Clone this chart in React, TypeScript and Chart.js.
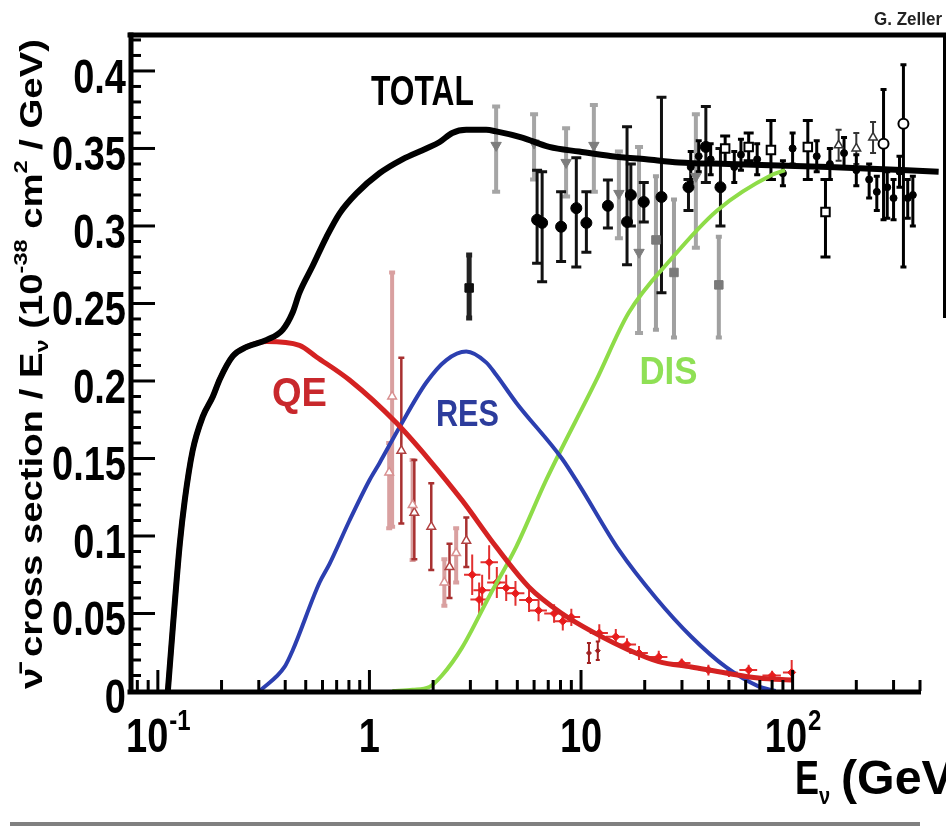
import React, { useEffect, useRef } from 'react';
import { Chart, registerables } from 'chart.js';

Chart.register(...registerables);

// ---------------- axis ranges & tick labels ----------------
const X_MIN = 0.07386;
const X_MAX = 400;
const Y_MIN = 0;
const Y_MAX = 0.4232;
const yTickValues = [0, 0.05, 0.1, 0.15, 0.2, 0.25, 0.3, 0.35, 0.4];
const yTickLabels = ['0', '0.05', '0.1', '0.15', '0.2', '0.25', '0.3', '0.35', '0.4'];
const xTickValues = [0.1, 1, 10, 100];
const xTickBase = ['10', '1', '10', '10'];
const xTickSup = ['-1', '', '', '2'];

// ---------------- model curves ----------------
const totalE = [0.1115, 0.1177, 0.127, 0.134, 0.146, 0.163, 0.182, 0.196, 0.226, 0.263, 0.327, 0.389, 0.433, 0.467, 0.538, 0.627, 0.722, 0.868, 1.115, 1.431, 1.857, 2.139, 2.463, 2.868, 3.563, 3.972, 5.27, 7.07, 9.79, 14.0, 20.3, 29.0, 50.0, 148, 490];
const totalV = [0, 0.041, 0.095, 0.123, 0.155, 0.177, 0.19, 0.201, 0.216, 0.222, 0.2265, 0.233, 0.244, 0.257, 0.274, 0.293, 0.308, 0.321, 0.334, 0.343, 0.35, 0.354, 0.36, 0.362, 0.362, 0.361, 0.357, 0.351, 0.348, 0.345, 0.343, 0.341, 0.34, 0.338, 0.335];

const qeE = [0.1115, 0.1177, 0.127, 0.134, 0.146, 0.163, 0.182, 0.196, 0.226, 0.263, 0.327, 0.467, 0.562, 0.805, 1.34, 1.92, 2.74, 3.97, 5.68, 8.12, 11.76, 16.8, 23.3, 33.2, 48.3, 69.0, 101];
const qeV = [0, 0.041, 0.095, 0.123, 0.155, 0.177, 0.19, 0.201, 0.216, 0.222, 0.2255, 0.223, 0.2155, 0.2006, 0.173, 0.149, 0.123, 0.093, 0.067, 0.05, 0.037, 0.0265, 0.019, 0.0155, 0.0116, 0.0084, 0.007];

const resE = [0.303, 0.397, 0.433, 0.581, 0.648, 0.805, 1.0, 1.115, 1.385, 1.857, 2.31, 2.868, 3.56, 3.97, 4.94, 8.12, 9.79, 15.1, 22.6, 33.2, 48.3, 69, 83];
const resV = [0, 0.0155, 0.026, 0.07, 0.082, 0.11, 0.136, 0.147, 0.17, 0.199, 0.2135, 0.219, 0.212, 0.204, 0.186, 0.15, 0.133, 0.091, 0.06, 0.035, 0.0155, 0.003, 0];

const disE = [1.284, 1.6, 1.918, 2.2, 2.74, 3.68, 4.94, 6.84, 11.76, 16.8, 26.8, 44, 80, 92];
const disV = [0, 0.0008, 0.0026, 0.01, 0.028, 0.061, 0.093, 0.136, 0.2, 0.244, 0.279, 0.31, 0.333, 0.336];

// ---------------- measurements ----------------
const grayTriE = [3.97, 6.0, 8.5, 11.5, 15.1, 18.8, 34.9];
const grayTriV = [0.352, 0.3535, 0.341, 0.352, 0.321, 0.283, 0.332];
const grayTriLo = [0.322, 0.33, 0.319, 0.322, 0.292, 0.231, 0.286];
const grayTriHi = [0.377, 0.372, 0.363, 0.378, 0.348, 0.351, 0.372];

const graySqE = [22.6, 27.5, 44.8];
const graySqV = [0.291, 0.27, 0.262];
const graySqLo = [0.233, 0.228, 0.228];
const graySqHi = [0.332, 0.317, 0.293];

const blackCircE = [6.2, 6.55, 8.05, 9.5, 10.6, 13.4, 16.5, 17.2, 19.8, 24.0, 32.2, 38.9, 45.6];
const blackCircV = [0.304, 0.302, 0.2995, 0.3115, 0.302, 0.313, 0.3026, 0.32, 0.3155, 0.3187, 0.325, 0.351, 0.325];
const blackCircLo = [0.276, 0.264, 0.277, 0.2735, 0.283, 0.2987, 0.275, 0.3, 0.3026, 0.257, 0.31, 0.328, 0.3];
const blackCircHi = [0.336, 0.335, 0.322, 0.344, 0.322, 0.3297, 0.364, 0.34, 0.328, 0.383, 0.33, 0.377, 0.35];

const blackSqE = [2.96];
const blackSqV = [0.26];
const blackSqLo = [0.2406];
const blackSqHi = [0.2813];

const openSqE = [48, 62, 79, 118, 143];
const openSqV = [0.35, 0.351, 0.349, 0.351, 0.309];
const openSqLo = [0.34, 0.342, 0.33, 0.33, 0.28];
const openSqHi = [0.358, 0.36, 0.368, 0.368, 0.33];

const openCircE = [269, 334];
const openCircV = [0.353, 0.366];
const openCircLo = [0.304, 0.2735];
const openCircHi = [0.388, 0.404];

const openTriE = [165, 200, 240];
const openTriV = [0.352, 0.35, 0.357];
const openTriLo = [0.342, 0.34, 0.347];
const openTriHi = [0.362, 0.36, 0.367];

const blackSmallE = [33, 36, 41, 53, 57, 68, 90, 100, 130, 150, 175, 200, 230, 250, 280, 300, 320, 350, 370];
const blackSmallV = [0.338, 0.345, 0.343, 0.338, 0.346, 0.343, 0.334, 0.35, 0.345, 0.34, 0.347, 0.336, 0.33, 0.322, 0.325, 0.318, 0.335, 0.318, 0.32];
const blackSmallLo = [0.328, 0.335, 0.333, 0.328, 0.336, 0.333, 0.326, 0.34, 0.335, 0.33, 0.337, 0.326, 0.318, 0.31, 0.305, 0.304, 0.325, 0.305, 0.3];
const blackSmallHi = [0.348, 0.355, 0.353, 0.348, 0.356, 0.353, 0.342, 0.36, 0.355, 0.35, 0.357, 0.346, 0.34, 0.332, 0.335, 0.33, 0.345, 0.33, 0.332];

const qePinkE = [1.24, 1.28, 1.6, 2.26, 2.57];
const qePinkV = [0.141, 0.19, 0.12, 0.07, 0.089];
const qePinkLo = [0.105, 0.106, 0.0845, 0.055, 0.07];
const qePinkHi = [0.16, 0.27, 0.149, 0.085, 0.105];

const qeDarkE = [1.415, 1.63, 1.96, 2.39, 2.87];
const qeDarkV = [0.155, 0.115, 0.106, 0.08, 0.097];
const qeDarkLo = [0.108, 0.085, 0.078, 0.06, 0.08];
const qeDarkHi = [0.215, 0.149, 0.134, 0.095, 0.112];

const qeStarE = [3.06, 3.3, 3.41, 3.68, 4.0, 4.43, 4.9, 5.68, 6.3, 7.46, 8.2, 9.0, 12.2, 14.6, 16.5, 18.8, 23.3, 29.9, 40, 50, 62, 80, 99];
const qeStarV = [0.075, 0.059, 0.065, 0.083, 0.07, 0.0665, 0.063, 0.0587, 0.052, 0.05, 0.045, 0.0477, 0.0374, 0.035, 0.03, 0.0245, 0.022, 0.018, 0.0135, 0.012, 0.0135, 0.01, 0.012];
const qeStarLo = [0.062, 0.048, 0.055, 0.072, 0.06, 0.058, 0.055, 0.051, 0.045, 0.044, 0.039, 0.042, 0.032, 0.03, 0.026, 0.02, 0.018, 0.015, 0.01, 0.009, 0.01, 0.007, 0.007];
const qeStarHi = [0.088, 0.07, 0.075, 0.094, 0.08, 0.075, 0.071, 0.066, 0.059, 0.056, 0.051, 0.053, 0.043, 0.04, 0.034, 0.029, 0.026, 0.021, 0.017, 0.015, 0.017, 0.013, 0.02];
const qeStarXLo = [2.8, 3.0, 3.1, 3.35, 3.6, 4.0, 4.4, 5.1, 5.7, 6.7, 7.4, 8.1, 11.0, 13.1, 14.8, 16.9, 21.0, 26.9, 36, 45, 56, 72, 90];
const qeStarXHi = [3.35, 3.6, 3.75, 4.05, 4.4, 4.9, 5.4, 6.3, 6.9, 8.2, 9.0, 9.9, 13.4, 16.1, 18.2, 20.7, 25.6, 32.9, 44, 55, 68, 88, 100];

const qeLowE = [10.9, 12.0];
const qeLowV = [0.0245, 0.026];
const qeLowLo = [0.018, 0.02];
const qeLowHi = [0.031, 0.032];

// ---------------- helpers ----------------
const FONT = '"Liberation Sans", Arial, Helvetica, sans-serif';
const pts = (xs: number[], ys: number[]) => xs.map((x, i) => ({ x, y: ys[i] }));

function drawScaled(ctx: any, text: string, x: number, y: number, fs: number, sx: number, sy: number, align: string, color: string) {
  ctx.save();
  ctx.font = `bold ${fs}px ${FONT}`;
  ctx.fillStyle = color;
  ctx.textAlign = align;
  ctx.textBaseline = 'alphabetic';
  ctx.translate(x, y);
  ctx.scale(sx, sy);
  ctx.fillText(text, 0, 0);
  ctx.restore();
}

function drawLabel(ctx: any, text: string, cx: number, cy: number, targetW: number, capH: number, color: string) {
  ctx.save();
  ctx.font = `bold 30px ${FONT}`;
  const w = ctx.measureText(text).width;
  ctx.restore();
  drawScaled(ctx, text, cx, cy + capH / 2, 30, targetW / w, capH / (0.716 * 30), 'center', color);
}

const errorBarPlugin = {
  id: 'errorBars',
  beforeDatasetsDraw(chart: any) {
    const { ctx, scales } = chart;
    const xs = scales.x;
    const ys = scales.y;
    chart.data.datasets.forEach((ds: any) => {
      if (!ds.errLo) return;
      ctx.save();
      ctx.strokeStyle = ds.errColor;
      ctx.lineWidth = ds.errWidth;
      ds.data.forEach((p: any, j: number) => {
        const px = xs.getPixelForValue(p.x);
        const py = ys.getPixelForValue(p.y);
        const y1 = ys.getPixelForValue(ds.errLo[j]);
        const y2 = ys.getPixelForValue(ds.errHi[j]);
        ctx.beginPath();
        ctx.moveTo(px, y1);
        ctx.lineTo(px, y2);
        if (ds.capW) {
          ctx.moveTo(px - ds.capW, y1);
          ctx.lineTo(px + ds.capW, y1);
          ctx.moveTo(px - ds.capW, y2);
          ctx.lineTo(px + ds.capW, y2);
        }
        if (ds.xErrLo) {
          const x1 = xs.getPixelForValue(ds.xErrLo[j]);
          const x2 = xs.getPixelForValue(ds.xErrHi[j]);
          ctx.moveTo(x1, py);
          ctx.lineTo(x2, py);
        }
        ctx.stroke();
      });
      ctx.restore();
    });
  },
};

const decorPlugin = {
  id: 'decor',
  afterDraw(chart: any) {
    const { ctx, scales, chartArea } = chart;
    const xs = scales.x;
    const ys = scales.y;
    const L = chartArea.left;
    const R = chartArea.right;
    const T = chartArea.top;
    const B = chartArea.bottom;
    ctx.save();
    ctx.strokeStyle = '#000';
    ctx.lineCap = 'butt';

    // frame
    ctx.lineWidth = 5;
    ctx.beginPath();
    ctx.moveTo(L - 2.5, T);
    ctx.lineTo(946, T);
    ctx.stroke();
    ctx.beginPath();
    ctx.moveTo(L + 1, T - 2.5);
    ctx.lineTo(L + 1, B + 3);
    ctx.stroke();
    ctx.beginPath();
    ctx.moveTo(L - 2.5, B + 1);
    ctx.lineTo(R + 1, B + 1);
    ctx.stroke();
    ctx.lineWidth = 3;
    ctx.beginPath();
    ctx.moveTo(944.5, T);
    ctx.lineTo(944.5, 318);
    ctx.stroke();

    // y ticks (inward)
    ctx.lineWidth = 3;
    for (let k = 1; k <= 42; k++) {
      const v = k / 100;
      const py = ys.getPixelForValue(v);
      const major = k % 5 === 0;
      ctx.beginPath();
      ctx.moveTo(L + 2, py);
      ctx.lineTo(L + (major ? 25 : 11), py);
      ctx.stroke();
    }
    // x ticks (inward)
    const decades = [0.01, 0.1, 1, 10, 100];
    decades.forEach((d) => {
      for (let m = 1; m <= 9; m++) {
        const v = m * d;
        if (v < X_MIN || v > X_MAX * 1.0001) continue;
        const px = xs.getPixelForValue(v);
        ctx.beginPath();
        ctx.moveTo(px, B);
        ctx.lineTo(px, B - (m === 1 ? 21 : 11));
        ctx.stroke();
      }
    });

    // y tick labels
    yTickValues.forEach((v, i) => {
      const py = ys.getPixelForValue(v);
      drawScaled(ctx, yTickLabels[i], 126, py + 5 + 17, 38, 1, 1.27, 'right', '#000');
    });

    // x tick labels
    xTickValues.forEach((v, i) => {
      const px = xs.getPixelForValue(v);
      ctx.font = `bold 38px ${FONT}`;
      const wb = ctx.measureText(xTickBase[i]).width;
      ctx.font = `bold 24px ${FONT}`;
      const wsup = xTickSup[i] ? ctx.measureText(xTickSup[i]).width : 0;
      const x0 = px - (wb + wsup) / 2;
      drawScaled(ctx, xTickBase[i], x0, 752, 38, 1, 1.25, 'left', '#000');
      if (xTickSup[i]) drawScaled(ctx, xTickSup[i], x0 + wb + 1, 730, 24, 1, 1.25, 'left', '#000');
    });

    // curve labels
    drawLabel(ctx, 'TOTAL', xs.getPixelForValue(1.78), ys.getPixelForValue(0.3877), 103, 30, '#000');
    drawLabel(ctx, 'QE', xs.getPixelForValue(0.467), ys.getPixelForValue(0.1929), 55, 29, '#c8282c');
    drawLabel(ctx, 'RES', xs.getPixelForValue(2.904), ys.getPixelForValue(0.1794), 63, 27, '#2c3c9c');
    drawLabel(ctx, 'DIS', xs.getPixelForValue(25.9), ys.getPixelForValue(0.2071), 58, 28, '#8fe055');

    // credit
    drawScaled(ctx, 'G. Zeller', 942, 25, 17, 1, 1.05, 'right', '#222');

    // y axis title (rotated, stretched to span)
    const segs = [
      { t: 'ν̄ cross section / E', fs: 31, dy: 0 },
      { t: 'ν', fs: 19, dy: 6 },
      { t: ' (10', fs: 31, dy: 0 },
      { t: '-38', fs: 19, dy: -15 },
      { t: ' cm', fs: 31, dy: 0 },
      { t: '2', fs: 19, dy: -15 },
      { t: ' / GeV)', fs: 31, dy: 0 },
    ];
    let total = 0;
    const widths = segs.map((s) => {
      ctx.font = `bold ${s.fs}px ${FONT}`;
      const w = ctx.measureText(s.t).width;
      total += w;
      return w;
    });
    const sAlong = 650 / total;
    ctx.save();
    ctx.translate(42, 689);
    ctx.rotate(-Math.PI / 2);
    ctx.scale(sAlong, 1);
    ctx.fillStyle = '#000';
    ctx.textAlign = 'left';
    ctx.textBaseline = 'alphabetic';
    let cx = 0;
    segs.forEach((s, i) => {
      ctx.font = `bold ${s.fs}px ${FONT}`;
      ctx.fillText(s.t, cx, s.dy);
      cx += widths[i];
    });
    ctx.restore();

    // x axis title (runs off the canvas edge like the original)
    ctx.font = `bold 36px ${FONT}`;
    const wE = ctx.measureText('E').width;
    drawScaled(ctx, 'E', 795, 794, 36, 1, 1.35, 'left', '#000');
    drawScaled(ctx, 'ν', 795 + wE, 804, 20, 1, 1.2, 'left', '#000');
    drawScaled(ctx, '(GeV)', 841, 794, 42, 1.15, 1.15, 'left', '#000');

    // bottom grey rule
    ctx.strokeStyle = '#808080';
    ctx.lineWidth = 4;
    ctx.beginPath();
    ctx.moveTo(10, 824);
    ctx.lineTo(920, 824);
    ctx.stroke();
    ctx.restore();
  },
};

export default function App() {
  const ref = useRef<HTMLCanvasElement | null>(null);
  useEffect(() => {
    if (!ref.current) return;
    const curve = (label: string, xs: number[], ys: number[], color: string, width: number, order: number, extra: any = {}) => ({
      label,
      data: pts(xs, ys),
      borderColor: color,
      borderWidth: width,
      pointRadius: 0,
      fill: false,
      cubicInterpolationMode: 'monotone',
      order,
      ...extra,
    });
    const marks = (label: string, xs: number[], ys: number[], lo: number[], hi: number[], style: any) => ({
      label,
      data: pts(xs, ys),
      showLine: false,
      errLo: lo,
      errHi: hi,
      order: 5,
      ...style,
    });
    const chart = new Chart(ref.current, {
      type: 'line',
      data: {
        datasets: [
          curve('TOTAL', totalE, totalV, '#000000', 6, 0, { clip: false }),
          curve('QE', qeE, qeV, '#d42222', 5, 1),
          curve('RES', resE, resV, '#2c3fb0', 4, 2),
          curve('DIS', disE, disV, '#8edc48', 4, 3),
          marks('grayTri', grayTriE, grayTriV, grayTriLo, grayTriHi, {
            pointStyle: 'triangle', pointRotation: 180, pointRadius: 6,
            pointBackgroundColor: '#7d7d7d', pointBorderColor: '#7d7d7d', errColor: '#a5a5a5', errWidth: 4, capW: 4,
          }),
          marks('graySq', graySqE, graySqV, graySqLo, graySqHi, {
            pointStyle: 'rect', pointRadius: 6,
            pointBackgroundColor: '#7a7a7a', pointBorderColor: '#7a7a7a', errColor: '#a0a0a0', errWidth: 4, capW: 3,
          }),
          marks('blackCirc', blackCircE, blackCircV, blackCircLo, blackCircHi, {
            pointStyle: 'circle', pointRadius: 5.5,
            pointBackgroundColor: '#000', pointBorderColor: '#000', errColor: '#111', errWidth: 3, capW: 5,
          }),
          marks('blackSq', blackSqE, blackSqV, blackSqLo, blackSqHi, {
            pointStyle: 'rect', pointRadius: 6,
            pointBackgroundColor: '#111', pointBorderColor: '#111', errColor: '#222', errWidth: 5, capW: 3,
          }),
          marks('openSq', openSqE, openSqV, openSqLo, openSqHi, {
            pointStyle: 'rect', pointRadius: 6, pointBorderWidth: 2,
            pointBackgroundColor: '#fff', pointBorderColor: '#000', errColor: '#000', errWidth: 3, capW: 5,
          }),
          marks('openCirc', openCircE, openCircV, openCircLo, openCircHi, {
            pointStyle: 'circle', pointRadius: 5, pointBorderWidth: 2,
            pointBackgroundColor: '#fff', pointBorderColor: '#000', errColor: '#000', errWidth: 3, capW: 3,
          }),
          marks('openTri', openTriE, openTriV, openTriLo, openTriHi, {
            pointStyle: 'triangle', pointRadius: 5, pointBorderWidth: 1.5,
            pointBackgroundColor: '#fff', pointBorderColor: '#333', errColor: '#333', errWidth: 2, capW: 3,
          }),
          marks('blackSmall', blackSmallE, blackSmallV, blackSmallLo, blackSmallHi, {
            pointStyle: 'circle', pointRadius: 3.5,
            pointBackgroundColor: '#000', pointBorderColor: '#000', errColor: '#000', errWidth: 3, capW: 3,
          }),
          marks('qePink', qePinkE, qePinkV, qePinkLo, qePinkHi, {
            pointStyle: 'triangle', pointRadius: 5, pointBorderWidth: 1.5,
            pointBackgroundColor: '#fff', pointBorderColor: '#d89090', errColor: '#d9a0a0', errWidth: 4, capW: 3,
          }),
          marks('qeDark', qeDarkE, qeDarkV, qeDarkLo, qeDarkHi, {
            pointStyle: 'triangle', pointRadius: 5, pointBorderWidth: 1.5,
            pointBackgroundColor: '#fff', pointBorderColor: '#b04040', errColor: '#a83030', errWidth: 2.5, capW: 3,
          }),
          marks('qeStar', qeStarE, qeStarV, qeStarLo, qeStarHi, {
            pointStyle: 'rectRot', pointRadius: 4,
            pointBackgroundColor: '#e81c1c', pointBorderColor: '#e81c1c', errColor: '#e23030', errWidth: 2,
            xErrLo: qeStarXLo, xErrHi: qeStarXHi,
          }),
          marks('qeLow', qeLowE, qeLowV, qeLowLo, qeLowHi, {
            pointStyle: 'rectRot', pointRadius: 2.5,
            pointBackgroundColor: '#a02020', pointBorderColor: '#a02020', errColor: '#a02020', errWidth: 2, capW: 2,
          }),
        ] as any,
      },
      options: {
        responsive: false,
        animation: false,
        layout: { padding: { left: 0, right: 26, top: 35, bottom: 0 } },
        plugins: {
          legend: { display: false },
          tooltip: { enabled: false },
          title: { display: false },
        },
        scales: {
          x: {
            type: 'logarithmic',
            min: X_MIN,
            max: X_MAX,
            ticks: { display: false },
            grid: { display: false },
            border: { display: false },
            afterFit: (s: any) => { s.height = 137; },
          },
          y: {
            type: 'linear',
            min: Y_MIN,
            max: Y_MAX,
            ticks: { display: false },
            grid: { display: false },
            border: { display: false },
            afterFit: (s: any) => { s.width = 130; },
          },
        },
      } as any,
      plugins: [errorBarPlugin, decorPlugin],
    });
    return () => chart.destroy();
  }, []);
  return (
    <div style={{ position: 'absolute', left: 0, top: 0, width: 946, height: 828, background: '#fff' }}>
      <canvas ref={ref} width={946} height={828} style={{ display: 'block' }} />
    </div>
  );
}
